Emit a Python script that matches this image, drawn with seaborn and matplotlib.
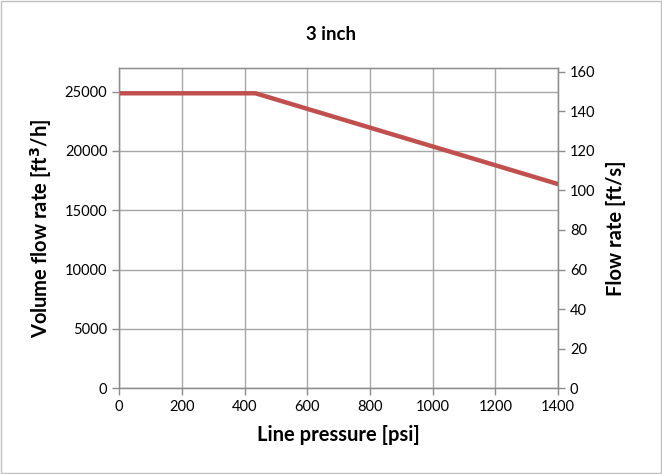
import numpy as np
import pandas as pd
import seaborn as sns
import matplotlib.pyplot as plt
from matplotlib.patches import Rectangle

# data
pressure = [0, 435, 1400]          # psi
volume_flow = [24850, 24850, 17200]  # ft3/h
x_ticks = [0, 200, 400, 600, 800, 1000, 1200, 1400]
left_ticks = [0, 5000, 10000, 15000, 20000, 25000]
right_ticks = [0, 20, 40, 60, 80, 100, 120, 140, 160]
ft3h_per_fts = 25000 / 150.0

sns.set_style("white")
plt.rcParams['font.family'] = ['Lato', 'DejaVu Sans']
plt.rcParams['text.color'] = 'black'
plt.rcParams['axes.labelcolor'] = 'black'
plt.rcParams['xtick.labelcolor'] = 'black'
plt.rcParams['ytick.labelcolor'] = 'black'

df = pd.DataFrame({"pressure": pressure, "flow": volume_flow})

fig = plt.figure(figsize=(6.62, 4.74), dpi=100)
ax = fig.add_axes([0.18, 0.181, 0.663, 0.676])

sns.lineplot(data=df, x="pressure", y="flow", ax=ax,
             color="#C0504D", linewidth=3.2, zorder=5)

ax.set_xlim(0, 1400)
ax.set_ylim(0, 27000)
ax.set_xticks(x_ticks)
ax.set_yticks(left_ticks)
ax.grid(True, color="#a6a6a6", linewidth=1)
ax.set_axisbelow(True)
for s in ax.spines.values():
    s.set_color("#8c8c8c")
    s.set_linewidth(1)
ax.tick_params(axis="both", direction="out", length=5, width=1,
               color="#8c8c8c", labelcolor="black", labelsize=10.5, left=True, bottom=True)
ax.set_xlabel("Line pressure [psi]", fontsize=14.5, fontweight="bold", labelpad=8)
ax.set_ylabel("Volume flow rate [ft$^\\mathbf{3}$/h]", fontsize=14.5, fontweight="bold", labelpad=8)

ax2 = ax.twinx()
ax2.set_ylim(0, 27000 / ft3h_per_fts)
ax2.set_yticks(right_ticks)
for s in ax2.spines.values():
    s.set_color("#8c8c8c")
ax2.tick_params(axis="y", direction="out", length=5, width=1,
                color="#8c8c8c", labelcolor="black", labelsize=10.5, right=True)
ax2.set_ylabel("Flow rate [ft/s]", fontsize=14.5, fontweight="bold", labelpad=8)

fig.suptitle("3 inch", fontsize=13.5, fontweight="bold", y=0.945)

fig.patches.append(Rectangle((0.002, 0.002), 0.996, 0.996, transform=fig.transFigure,
                             fill=False, edgecolor="#bfbfbf", linewidth=1))

plt.savefig("out.png", dpi=100)
plt.close()
